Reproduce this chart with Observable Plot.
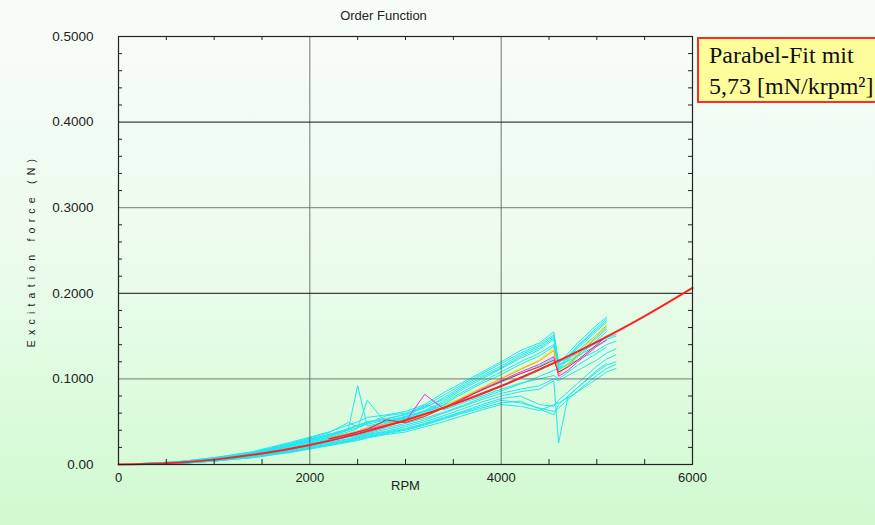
<!DOCTYPE html>
<html>
<head>
<meta charset="utf-8">
<script src="https://cdn.jsdelivr.net/npm/d3@7"></script>
<script src="https://cdn.jsdelivr.net/npm/@observablehq/plot@0.6"></script>
<style>
  html, body { margin: 0; padding: 0; }
  #wrap {
    position: relative; width: 875px; height: 525px; overflow: hidden;
    background: linear-gradient(to bottom, #f8fdf9 0%, #edfcee 45%, #d0fad0 100%);
    font-family: "Liberation Sans", Arial, sans-serif;
  }
  #chart { position: absolute; left: 0; top: 0; }
  #title { position: absolute; left: 0; width: 767px; top: 8px; text-align: center; font-size: 13px; color: #222; }
  #fitbox {
    position: absolute; left: 697px; top: 37px; width: 190px; height: 66px;
    background: #fdfd9c; border: 2px solid #ff2a2a; box-sizing: border-box;
    font-family: "Liberation Serif", "Times New Roman", serif; font-size: 24px; line-height: 31px;
    color: #111; padding: 1px 0 0 10px;
  }
  [aria-label="y-axis label"] text { letter-spacing: 5.2px; font-size: 10.5px; }
</style>
</head>
<body>
<div id="wrap">
  <div id="chart"></div>
  <div id="title">Order Function</div>
  <div id="fitbox">Parabel-Fit mit<br>5,73 [mN/krpm²]</div>
</div>
<script>
// ---- data ----
const yTicks = [0, 0.1, 0.2, 0.3, 0.4, 0.5];
const xTicks = [0, 2000, 4000, 6000];
const xMinor = [500, 1000, 1500, 2500, 3000, 3500, 4500, 5000, 5500];
const yMinor = [0.02,0.04,0.06,0.08,0.12,0.14,0.16,0.18,0.22,0.24,0.26,0.28,0.32,0.34,0.36,0.38,0.42,0.44,0.46,0.48];

// RPM grid of measured runs
const rpm = [200,600,1000,1400,1800,2000,2200,2400,2500,2600,2800,3000,3200,3400,3600,3800,4000,4200,4400,4550,4600,4700,4800,5000,5100,5200];

// cyan measured runs – upper group
const runA1 = [0.001,0.003,0.008,0.015,0.026,0.032,0.038,0.046,0.050,0.055,0.058,0.062,0.070,0.084,0.096,0.108,0.120,0.133,0.142,0.155,0.118,0.130,0.142,0.163,0.172,null];
const runA2 = [0.001,0.003,0.007,0.014,0.024,0.030,0.035,0.042,0.046,0.050,0.054,0.058,0.066,0.078,0.092,0.104,0.115,0.128,0.138,0.150,0.115,0.125,0.138,0.158,0.168,null];
const runA3 = [0.001,0.002,0.007,0.013,0.023,0.028,0.034,0.040,0.043,0.047,0.052,0.056,0.063,0.074,0.088,0.100,0.112,0.124,0.134,0.146,0.112,0.122,0.133,0.152,0.162,null];
const runA4 = [0.001,0.003,0.007,0.013,0.022,0.028,0.033,0.040,0.092,0.045,0.050,0.054,0.062,0.072,0.085,0.097,0.108,0.120,0.130,0.140,0.110,0.118,0.128,0.148,0.158,null];
const runA5 = [0.001,0.002,0.006,0.012,0.022,0.027,0.032,0.038,0.042,0.075,0.048,0.053,0.060,0.070,0.083,0.095,0.105,0.117,0.127,0.138,0.108,0.115,0.126,0.145,0.155,null];
const runA6 = [0.001,0.003,0.008,0.014,0.025,0.031,0.037,0.049,0.044,0.048,0.057,0.060,0.068,0.081,0.094,0.106,0.118,0.130,0.140,0.152,0.120,0.127,0.139,0.160,0.170,null];
const runA7 = [0.001,0.002,0.007,0.013,0.024,0.029,0.035,0.041,0.045,0.049,0.053,0.059,0.067,0.076,0.090,0.102,0.113,0.126,0.136,0.148,0.113,0.124,0.136,0.156,0.166,null];
// cyan – middle group (near the fit)
const runC1 = [0.0005,0.002,0.006,0.011,0.019,0.024,0.029,0.034,0.037,0.040,0.046,0.052,0.059,0.066,0.074,0.082,0.091,0.100,0.110,0.118,0.120,0.124,0.130,0.142,0.148,0.152];
const runC2 = [0.000,0.002,0.005,0.010,0.018,0.022,0.027,0.032,0.034,0.037,0.043,0.048,0.054,0.061,0.069,0.078,0.086,0.094,0.103,0.110,0.112,0.117,0.122,0.133,0.140,0.144];
const runC3 = [0.001,0.002,0.006,0.012,0.020,0.025,0.030,0.035,0.038,0.042,0.048,0.055,0.070,0.064,0.072,0.080,0.088,0.095,0.100,0.104,0.100,0.108,0.116,0.130,0.137,null];
const runC4 = [0.001,0.002,0.006,0.012,0.021,0.026,0.031,0.036,0.039,0.043,0.050,0.056,0.062,0.069,0.078,0.087,0.096,0.106,0.115,0.124,0.117,0.121,0.127,0.139,0.146,0.150];
// cyan – lower group
const runD1 = [0.000,0.001,0.004,0.009,0.016,0.020,0.024,0.028,0.031,0.034,0.038,0.042,0.048,0.055,0.062,0.070,0.077,0.080,0.070,0.068,0.075,0.085,0.095,0.115,0.123,0.128];
const runD2 = [0.000,0.001,0.004,0.008,0.015,0.019,0.023,0.027,0.029,0.032,0.036,0.040,0.046,0.053,0.060,0.066,0.072,0.074,0.065,0.058,0.070,0.080,0.090,0.108,0.116,0.120];
const runD3 = [0.000,0.001,0.004,0.009,0.016,0.021,0.025,0.029,0.032,0.035,0.039,0.044,0.050,0.057,0.065,0.073,0.080,0.085,0.088,0.098,0.025,0.080,0.090,0.110,0.118,null];
const runD4 = [0.000,0.001,0.004,0.008,0.014,0.018,0.022,0.026,0.028,0.031,0.035,0.038,0.044,0.050,0.057,0.064,0.070,0.068,0.063,0.070,0.072,0.078,0.085,0.100,0.108,0.112];
const runD5 = [0.000,0.001,0.005,0.010,0.017,0.022,0.026,0.030,0.033,0.036,0.041,0.046,0.052,0.060,0.068,0.076,0.083,0.088,0.092,0.100,0.098,0.104,0.110,0.122,0.130,0.135];
const runD6 = [0.000,0.001,0.004,0.009,0.015,0.019,0.023,0.027,0.030,0.033,0.037,0.041,0.047,0.054,0.061,0.068,0.075,0.072,0.066,0.062,0.066,0.076,0.086,0.104,0.112,0.117];
// coloured runs
const runYellow  = [0.001,0.002,0.006,0.012,0.021,0.026,0.031,0.036,0.039,0.042,0.047,0.052,0.058,0.068,0.079,0.090,0.101,0.112,0.122,0.135,0.106,0.118,0.130,0.152,0.163,null];
const runOrange  = [0.001,0.002,0.006,0.012,0.021,0.026,0.031,0.036,0.039,0.043,0.047,0.050,0.057,0.067,0.078,0.089,0.100,0.111,0.121,0.133,0.105,0.116,0.128,0.150,0.160,null];
const runMagenta = [0.001,0.002,0.006,0.011,0.020,0.025,0.030,0.035,0.038,0.041,0.046,0.050,0.082,0.065,0.076,0.088,0.098,0.108,0.117,0.126,0.103,0.110,0.120,0.138,0.145,null];
const runCrimson = [0.001,0.002,0.006,0.011,0.020,0.025,0.030,0.035,0.038,0.041,0.052,0.049,0.056,0.066,0.077,0.087,0.097,0.106,0.114,0.122,0.108,0.114,0.122,0.140,0.150,null];

// parabola fit (red)
const fitRpm   = [0, 500, 1000, 1500, 2000, 2500, 3000, 3500, 4000, 4500, 5000, 5500, 6000];
const fitForce = [0, 0.0014, 0.0057, 0.0129, 0.0229, 0.0358, 0.0516, 0.0702, 0.0917, 0.1160, 0.1433, 0.1733, 0.2063];

// ---- build tables ----
const cyanRuns = {runA1, runA2, runA3, runA4, runA5, runA6, runA7, runC1, runC2, runC3, runC4, runD1, runD2, runD3, runD4, runD5, runD6};
const colorRuns = [["yellow", runYellow, "#f2e600"], ["orange", runOrange, "#ffa020"], ["magenta", runMagenta, "#ff20ff"], ["crimson", runCrimson, "#e0204a"]];
function toRows(name, arr) {
  return arr.map((v, i) => ({series: name, rpm: rpm[i], force: v})).filter(d => d.force != null);
}
const cyanRows = Object.entries(cyanRuns).flatMap(([k, a]) => toRows(k, a));
const fitRows = fitRpm.map((r, i) => ({rpm: r, force: fitForce[i]}));

const marks = [
  Plot.line(cyanRows, {x: "rpm", y: "force", z: "series", stroke: "#1fe6f2", strokeWidth: 1}),
  ...colorRuns.map(([n, a, c]) => Plot.line(toRows(n, a).filter(d => d.rpm >= 2200), {x: "rpm", y: "force", stroke: c, strokeWidth: 1})),
  Plot.ruleX([2000, 4000], {stroke: "#555", strokeOpacity: 0.8}),
  Plot.ruleY([0.1, 0.3], {stroke: "#666", strokeOpacity: 0.7, strokeWidth: 1.3}),
  Plot.ruleY([0.2, 0.4], {stroke: "#111"}),
  Plot.line(fitRows, {x: "rpm", y: "force", stroke: "#ff2222", strokeWidth: 2, curve: "natural"}),
  Plot.tickX(xMinor, {x: d => d, insetTop: 423, stroke: "#222"}),
  Plot.tickX(xMinor, {x: d => d, insetBottom: 424, stroke: "#222"}),
  Plot.tickY(yMinor, {y: d => d, insetRight: 570, stroke: "#222"}),
  Plot.tickY(yMinor, {y: d => d, insetLeft: 570, stroke: "#222"}),
  Plot.frame({stroke: "#222", strokeWidth: 1.2}),
  Plot.axisY(yTicks, {tickSize: 0, tickPadding: 25, fontSize: 13.5, tickFormat: d => d === 0 ? "0.00" : d3.format(".4f")(d),
    label: "Excitation force (N)", labelAnchor: "center", labelOffset: 91, labelArrow: "none"}),
  Plot.axisX(xTicks, {tickSize: 0, tickPadding: 8, fontSize: 13, tickFormat: d => String(d),
    label: "RPM", labelAnchor: "center", labelOffset: 25, labelArrow: "none"})
];

const chart = Plot.plot({
  width: 875, height: 525,
  marginLeft: 118, marginRight: 183, marginTop: 36, marginBottom: 61,
  style: {background: "transparent", fontFamily: "'Liberation Sans', Arial, sans-serif", fontSize: "13px", color: "#222", overflow: "visible"},
  x: {domain: [0, 6000]},
  y: {domain: [0, 0.5]},
  marks
});
document.getElementById("chart").appendChild(chart);
</script>
</body>
</html>
